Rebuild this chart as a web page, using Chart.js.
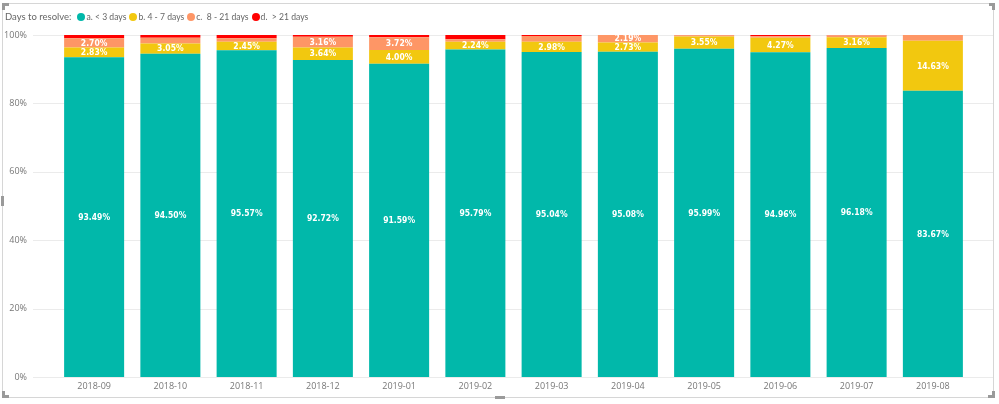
<!DOCTYPE html>
<html>
<head>
<meta charset="utf-8">
<script src="https://cdn.jsdelivr.net/npm/chart.js@4.4.1/dist/chart.umd.min.js"></script>
<style>
  html, body { margin: 0; padding: 0; background: #fff; }
  #wrap { position: relative; width: 999px; height: 404px; overflow: hidden; }
  #frame { position: absolute; left: 2px; top: 3px; width: 992px; height: 395px; border: 1px solid #d6d6d6; box-sizing: border-box; }
  .h { position: absolute; background: #9a9a9a; }
  #chartBox { position: absolute; left: 0; top: 0; width: 999px; height: 404px; }
  #legend { position: absolute; left: 5px; top: 11px; display: flex; align-items: center; font-family: Lato, 'Open Sans', sans-serif; font-size: 9.5px; color: #666; white-space: pre; }
  #legend .title { margin-right: 6px; }
  #legend .item { display: flex; align-items: center; margin-right: 3px; font-size: 8.6px; }
  #legend .dot { width: 8px; height: 8px; border-radius: 50%; margin-right: 1px; display: inline-block; }
</style>
</head>
<body>
<div id="wrap">
  <div id="frame"></div>
  <div class="h" style="left:2px;top:3px;width:7px;height:3px;"></div>
  <div class="h" style="left:2px;top:3px;width:3px;height:7px;"></div>
  <div class="h" style="left:989px;top:3px;width:6px;height:3px;"></div>
  <div class="h" style="left:992px;top:3px;width:3px;height:7px;"></div>
  <div class="h" style="left:2px;top:395px;width:7px;height:3px;"></div>
  <div class="h" style="left:2px;top:391px;width:3px;height:7px;"></div>
  <div class="h" style="left:988px;top:395px;width:7px;height:3px;"></div>
  <div class="h" style="left:992px;top:391px;width:3px;height:7px;"></div>
  <div class="h" style="left:1px;top:196px;width:3px;height:10px;"></div>
  <div class="h" style="left:495px;top:396px;width:10px;height:3px;"></div>
  <div id="chartBox"><canvas id="c"></canvas></div>
  <div id="legend"></div>
</div>
<script>
const legendTitle = 'Days to resolve:';
const categories = ['2018-09','2018-10','2018-11','2018-12','2019-01','2019-02','2019-03','2019-04','2019-05','2019-06','2019-07','2019-08'];
const seriesNames = ['a. < 3 days', 'b. 4 - 7 days', 'c.  8 - 21 days', 'd.  > 21 days'];
const seriesColors = ['#01B8AA', '#F2C80F', '#FE9666', '#FF0000'];
const seriesA = [93.49, 94.50, 95.57, 92.72, 91.59, 95.79, 95.04, 95.08, 95.99, 94.96, 96.18, 83.67];
const seriesB = [2.83, 3.05, 2.45, 3.64, 4.00, 2.24, 2.98, 2.73, 3.55, 4.27, 3.16, 14.63];
const seriesC = [2.70, 1.65, 1.00, 3.16, 3.72, 0.75, 1.70, 2.19, 0.40, 0.42, 0.60, 1.70];
const seriesD = [0.98, 0.80, 0.98, 0.48, 0.69, 1.22, 0.28, 0.00, 0.06, 0.35, 0.06, 0.00];
const yTicks = [0, 20, 40, 60, 80, 100];

const allSeries = [seriesA, seriesB, seriesC, seriesD];

// HTML legend
const leg = document.getElementById('legend');
const t = document.createElement('span'); t.className = 'title'; t.textContent = legendTitle; leg.appendChild(t);
seriesNames.forEach((n, i) => {
  const it = document.createElement('span'); it.className = 'item';
  const d = document.createElement('span'); d.className = 'dot'; d.style.background = seriesColors[i];
  const s = document.createElement('span'); s.textContent = n;
  it.appendChild(d); it.appendChild(s); leg.appendChild(it);
});

const gridPlugin = {
  id: 'wideGrid',
  beforeDatasetsDraw(chart) {
    const ctx = chart.ctx, y = chart.scales.y;
    ctx.save();
    ctx.strokeStyle = '#ebebeb';
    ctx.lineWidth = 1;
    yTicks.forEach(v => {
      const py = Math.round(y.getPixelForValue(v)) + 0.5;
      ctx.beginPath(); ctx.moveTo(33, py); ctx.lineTo(993, py); ctx.stroke();
    });
    ctx.restore();
  }
};

const labelPlugin = {
  id: 'segLabels',
  afterDatasetsDraw(chart) {
    const ctx = chart.ctx;
    ctx.save();
    ctx.fillStyle = '#ffffff';
    ctx.font = "bold 8.5px 'Liberation Sans Narrow', 'DejaVu Sans Condensed', 'Roboto', sans-serif";
    ctx.textAlign = 'center';
    ctx.textBaseline = 'middle';
    chart.data.datasets.forEach((ds, di) => {
      const meta = chart.getDatasetMeta(di);
      meta.data.forEach((el, i) => {
        const v = ds.data[i];
        if (v >= 2) {
          ctx.fillText(v.toFixed(2) + '%', el.x, (el.y + el.base) / 2 + 0.5);
        }
      });
    });
    ctx.restore();
  }
};

new Chart(document.getElementById('c'), {
  type: 'bar',
  data: {
    labels: categories,
    datasets: allSeries.map((s, i) => ({
      label: seriesNames[i],
      data: s,
      backgroundColor: seriesColors[i],
      borderWidth: 0,
      barPercentage: 0.787,
      categoryPercentage: 1.0
    }))
  },
  options: {
    responsive: true,
    maintainAspectRatio: false,
    animation: false,
    layout: { padding: { top: 35, right: 28, bottom: 7, left: 0 } },
    plugins: { legend: { display: false }, tooltip: { enabled: false } },
    scales: {
      x: {
        stacked: true,
        afterFit(scale) { scale.height = 20; },
        grid: { display: false, drawTicks: false },
        border: { display: false },
        ticks: { color: '#777', font: { family: "'Open Sans', 'Noto Sans', sans-serif", size: 9 }, padding: 4, maxRotation: 0 }
      },
      y: {
        stacked: true,
        min: 0, max: 100,
        afterFit(scale) { scale.width = 56; scale.paddingTop = 5; scale.paddingBottom = 5; },
        afterBuildTicks(scale) { scale.ticks = yTicks.map(v => ({ value: v })); },
        grid: { display: false, drawTicks: false },
        border: { display: false },
        ticks: { color: '#777', font: { family: "'Open Sans', 'Noto Sans', sans-serif", size: 9 }, padding: 29, callback: v => v + '%' }
      }
    }
  },
  plugins: [gridPlugin, labelPlugin]
});
</script>
</body>
</html>
